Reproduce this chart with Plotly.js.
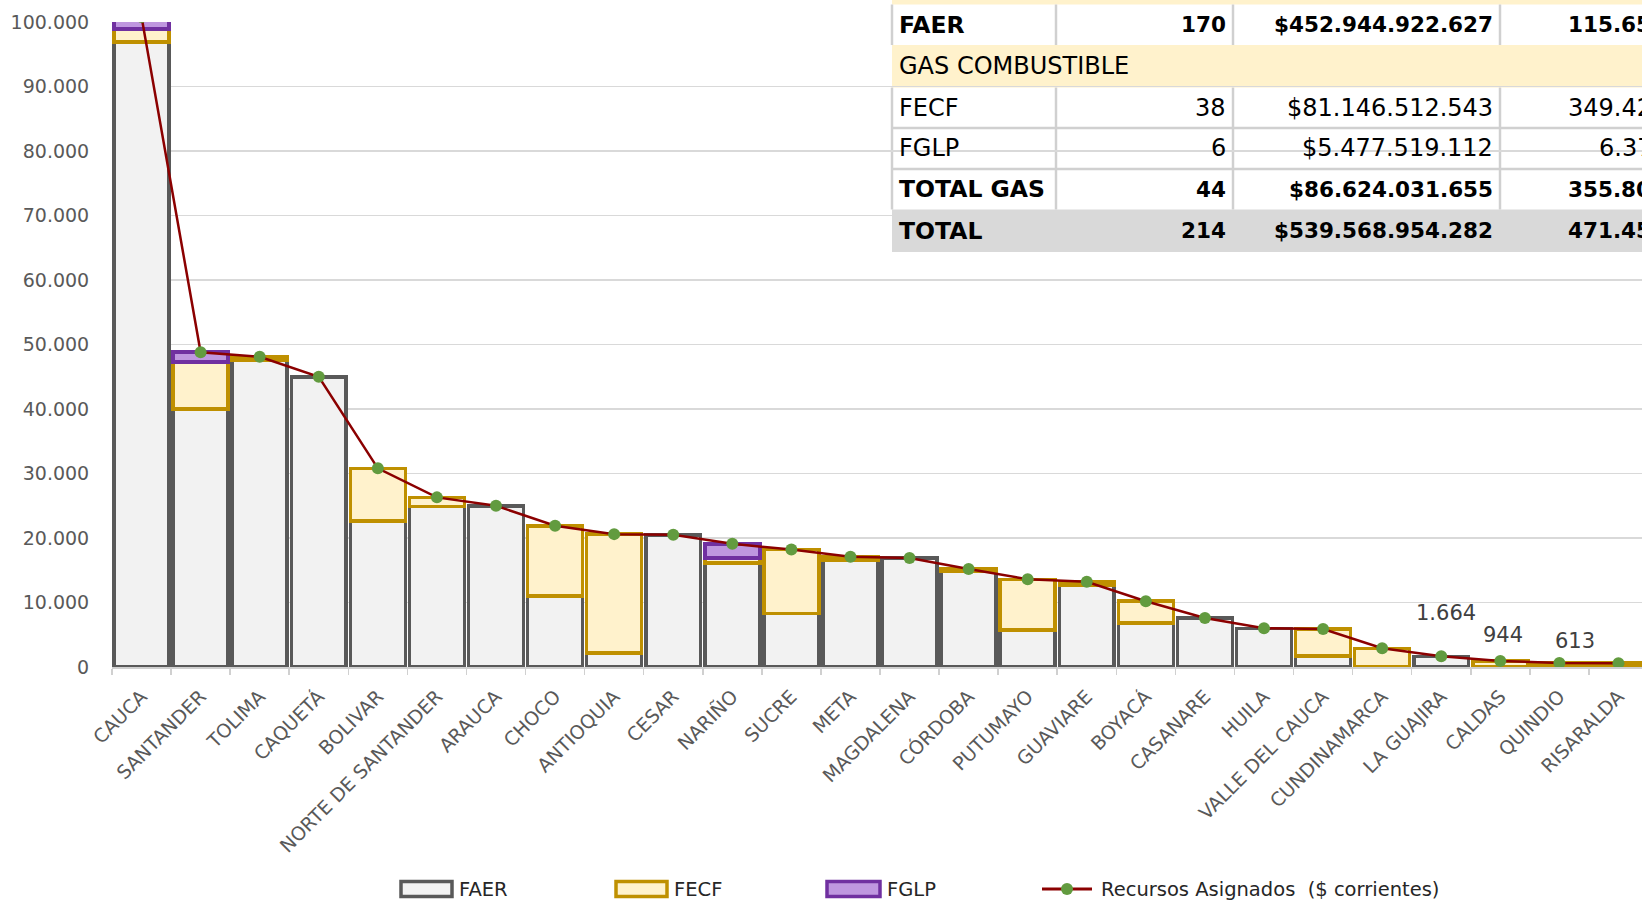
<!DOCTYPE html>
<html>
<head>
<meta charset="utf-8">
<script src="https://cdn.plot.ly/plotly-3.0.1.min.js"></script>
<style>
  html, body { margin: 0; padding: 0; background: #ffffff; overflow: hidden; }
  #chart { width: 1700px; height: 901px; }
</style>
</head>
<body>
<div id="chart"></div>
<script>
// ---------------- DATA ----------------
const categorias = ['CAUCA', 'SANTANDER', 'TOLIMA', 'CAQUETÁ', 'BOLIVAR', 'NORTE DE SANTANDER', 'ARAUCA', 'CHOCO',
  'ANTIOQUIA', 'CESAR', 'NARIÑO', 'SUCRE', 'META', 'MAGDALENA', 'CÓRDOBA', 'PUTUMAYO', 'GUAVIARE', 'BOYACÁ',
  'CASANARE', 'HUILA', 'VALLE DEL CAUCA', 'CUNDINAMARCA', 'LA GUAJIRA', 'CALDAS', 'QUINDIO', 'RISARALDA'];

const faer = [96900, 40000, 47600, 45000, 22600, 24900, 25000, 11000, 2200, 20500, 16100, 8300, 16600, 16900,
  14800, 5700, 12700, 6800, 7600, 6000, 1700, null, 1664, null, null, null];
const fecf = [2000, 7300, 500, null, 8200, 1400, null, 10900, 18400, null, 800, 9900, 500, null,
  400, 7900, 500, 3400, null, null, 4200, 2900, null, 944, 613, 590];
const fglp = [1900, 1500, null, null, null, null, null, null, null, null, 2200, null, null, null,
  null, null, null, null, null, null, null, null, null, null, null, null];
const recursos = [100800, 48800, 48100, 45000, 30800, 26300, 25000, 21900, 20600, 20500, 19100, 18200, 17100, 16900,
  15200, 13600, 13200, 10200, 7600, 6000, 5900, 2900, 1664, 944, 613, 590];

const etiquetaCats = ['LA GUAJIRA', 'CALDAS', 'QUINDIO'];
const etiquetaVals = [1664, 944, 613];

const serieNombres = ['FAER', 'FECF', 'FGLP', 'Recursos Asignados\u00a0 ($ corrientes)'];

const tablaEtiquetas = ['FAER', 'GAS COMBUSTIBLE', 'FECF', 'FGLP', 'TOTAL GAS', 'TOTAL'];
const tablaProyectos = ['170', '', '38', '6', '44', '214'];
const tablaValores = ['$452.944.922.627', '', '$81.146.512.543', '$5.477.519.112', '$86.624.031.655', '$539.568.954.282'];
const tablaUltima = ['115.65', '', '349.42', '6.37', '355.80', '471.45'];

// ---------------- STYLE / LAYOUT HELPERS ----------------
const FONT = 'DejaVu Sans';
const ML = 112, MT = 22, PW = 1536, PH = 645;
const px = x => (x - ML) / PW;
const py = y => (MT + PH - y) / PH;
const fmt = n => String(n).replace(/\B(?=(\d{3})+(?!\d))/g, '.');

const C = {
  faerFill: '#F2F2F2', faerLine: '#595959',
  fecfFill: '#FFF2CC', fecfLine: '#BF9000',
  fglpFill: '#BF97DF', fglpLine: '#7030A0',
  line: '#8B0000', marker: '#629B3F',
  grid: '#D9D9D9', tick: '#595959',
  tableBorder: '#D0D0D0', tableYellow: '#FFF2CC', tableGray: '#D9D9D9'
};

const BW = 3.5;
const traces = [
  { type: 'bar', x: categorias, y: faer, name: serieNombres[0],
    marker: { color: C.faerFill, line: { color: C.faerLine, width: BW } }, showlegend: false, hoverinfo: 'y' },
  { type: 'bar', x: categorias, y: fecf, name: serieNombres[1],
    marker: { color: C.fecfFill, line: { color: C.fecfLine, width: BW } }, showlegend: false, hoverinfo: 'y' },
  { type: 'bar', x: categorias, y: fglp, name: serieNombres[2],
    marker: { color: C.fglpFill, line: { color: C.fglpLine, width: BW } }, showlegend: false, hoverinfo: 'y' },
  { type: 'scatter', mode: 'lines+markers', x: categorias, y: recursos, name: serieNombres[3],
    line: { color: C.line, width: 2.5 }, marker: { color: C.marker, size: 12 }, showlegend: false, hoverinfo: 'y' }
];

const shapes = [];
const annotations = [];

// ---- table (drawn below the gridlines) ----
const rowTops = [4.5, 45, 87.5, 128, 169, 209.5];
const rowBottoms = [45, 87.5, 128, 169, 209.5, 252];
const rowBold = [true, false, false, false, true, true];
const TX0 = 892, TX1 = 1700;
const colDiv = [892, 1056, 1233, 1500];

shapes.push({ type: 'rect', xref: 'paper', yref: 'paper', layer: 'below',
  x0: px(TX0), x1: px(TX1), y0: py(0), y1: py(rowTops[0]), fillcolor: C.tableYellow, line: { width: 0 } });
shapes.push({ type: 'rect', xref: 'paper', yref: 'paper', layer: 'below',
  x0: px(TX0), x1: px(TX1), y0: py(rowTops[1]), y1: py(rowBottoms[1]), fillcolor: C.tableYellow, line: { width: 0 } });
shapes.push({ type: 'rect', xref: 'paper', yref: 'paper', layer: 'below',
  x0: px(TX0), x1: px(TX1), y0: py(rowTops[5]), y1: py(rowBottoms[5]), fillcolor: C.tableGray, line: { width: 0 } });
// vertical dividers in white rows
[[rowTops[0], rowBottoms[0]], [rowTops[2], rowBottoms[4]]].forEach(seg => {
  colDiv.forEach(cx => {
    shapes.push({ type: 'line', xref: 'paper', yref: 'paper', layer: 'below',
      x0: px(cx), x1: px(cx), y0: py(seg[0]), y1: py(seg[1]), line: { color: C.tableBorder, width: 2.5 } });
  });
});
// horizontal separators between white rows
[rowBottoms[2], rowBottoms[3]].forEach(yy => {
  shapes.push({ type: 'line', xref: 'paper', yref: 'paper', layer: 'below',
    x0: px(TX0), x1: px(TX1), y0: py(yy), y1: py(yy), line: { color: C.tableBorder, width: 2.5 } });
});

tablaEtiquetas.forEach((lab, i) => {
  const yc = py((rowTops[i] + rowBottoms[i]) / 2);
  const fLab = { family: FONT, size: rowBold[i] ? 23.5 : 24, color: '#000000' };
  const fNum = { family: FONT, size: rowBold[i] ? 21.5 : 24, color: '#000000' };
  const wrap = s => rowBold[i] ? '<b>' + s + '</b>' : s;
  annotations.push({ xref: 'paper', yref: 'paper', x: px(897), y: yc, xanchor: 'left', yanchor: 'middle',
    text: wrap(lab), showarrow: false, font: fLab });
  if (tablaProyectos[i]) annotations.push({ xref: 'paper', yref: 'paper', x: px(1228), y: yc, xanchor: 'right', yanchor: 'middle',
    text: wrap(tablaProyectos[i]), showarrow: false, font: fNum });
  if (tablaValores[i]) annotations.push({ xref: 'paper', yref: 'paper', x: px(1495), y: yc, xanchor: 'right', yanchor: 'middle',
    text: wrap(tablaValores[i]), showarrow: false, font: fNum });
  if (tablaUltima[i]) annotations.push({ xref: 'paper', yref: 'paper', x: px(tablaUltima[i].length < 6 ? 1597 : 1566), y: yc,
    xanchor: 'left', yanchor: 'middle', text: wrap(tablaUltima[i]), showarrow: false, font: fNum });
});

// ---- data labels ----
const labelShifts = [[5, 43], [3, 26], [16, 22]];
etiquetaCats.forEach((cat, i) => {
  annotations.push({ xref: 'x', yref: 'y', x: cat, y: etiquetaVals[i], text: fmt(etiquetaVals[i]),
    showarrow: false, xanchor: 'center', yanchor: 'middle', xshift: labelShifts[i][0], yshift: labelShifts[i][1],
    font: { family: FONT, size: 21, color: '#404040' } });
});

// ---- custom legend (Excel-style wide swatches) ----
const LY = 889;
const legendBoxes = [
  { x0: 401, x1: 452, fill: C.faerFill, line: C.faerLine, tx: 457 },
  { x0: 616, x1: 667, fill: C.fecfFill, line: C.fecfLine, tx: 672 },
  { x0: 827, x1: 880, fill: C.fglpFill, line: C.fglpLine, tx: 885 }
];
legendBoxes.forEach((b, i) => {
  shapes.push({ type: 'rect', xref: 'paper', yref: 'paper', x0: px(b.x0), x1: px(b.x1), y0: py(LY - 7.5), y1: py(LY + 7.5),
    fillcolor: b.fill, line: { color: b.line, width: 3.5 } });
  annotations.push({ xref: 'paper', yref: 'paper', x: px(b.tx), y: py(LY), xanchor: 'left', yanchor: 'middle',
    text: serieNombres[i], showarrow: false, font: { family: FONT, size: 19.5, color: '#262626' } });
});
shapes.push({ type: 'line', xref: 'paper', yref: 'paper', x0: px(1042), x1: px(1092), y0: py(LY), y1: py(LY),
  line: { color: C.line, width: 3 } });
shapes.push({ type: 'circle', xref: 'paper', yref: 'paper', x0: px(1061), x1: px(1073), y0: py(LY - 6), y1: py(LY + 6),
  fillcolor: C.marker, line: { color: C.marker, width: 0 } });
annotations.push({ xref: 'paper', yref: 'paper', x: px(1099), y: py(LY), xanchor: 'left', yanchor: 'middle',
  text: serieNombres[3], showarrow: false, font: { family: FONT, size: 19.5, color: '#262626' } });

const layout = {
  width: 1700, height: 901,
  margin: { l: ML, r: 1700 - ML - PW, t: MT, b: 901 - MT - PH, pad: 0 },
  paper_bgcolor: 'rgba(0,0,0,0)', plot_bgcolor: 'rgba(0,0,0,0)',
  separators: ',.',
  barmode: 'stack', bargap: 0.07,
  showlegend: false,
  font: { family: FONT, color: C.tick },
  xaxis: {
    type: 'category', range: [-0.5, categorias.length - 0.5],
    tickangle: -45, tickfont: { family: FONT, size: 19, color: C.tick },
    showline: true, linecolor: '#D0D0D0', linewidth: 2,
    ticks: 'outside', tickson: 'boundaries', ticklen: 6, tickcolor: '#D0D0D0', tickwidth: 1.5,
    ticklabelstandoff: 9,
    showgrid: false, layer: 'below traces', fixedrange: true
  },
  yaxis: {
    range: [0, 100000], dtick: 10000, tickformat: ',d',
    tickfont: { family: FONT, size: 19, color: C.tick },
    showgrid: true, gridcolor: C.grid, gridwidth: 1.3,
    zeroline: false, showline: false,
    ticks: 'outside', ticklen: 18, tickcolor: 'rgba(0,0,0,0)',
    fixedrange: true
  },
  shapes: shapes,
  annotations: annotations
};

Plotly.newPlot('chart', traces, layout, { displayModeBar: false, staticPlot: true });
</script>
</body>
</html>
